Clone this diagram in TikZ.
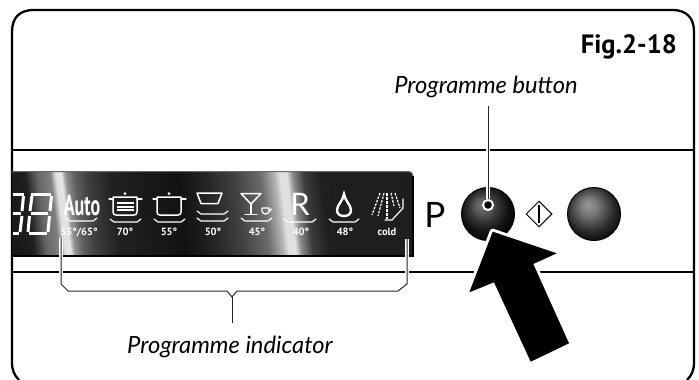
\documentclass[tikz,border=0pt]{standalone}
\usepackage{fontspec}
\usetikzlibrary{shapes.geometric}
\setmainfont{Lato}
\newfontfamily\pts{PT Sans}
\pgfdeclarehorizontalshading{panelgrad}{100bp}{
 color(0bp)=(black!90!white);
 color(25bp)=(black!92!white);
 color(27.1bp)=(black!88!white);
 color(28bp)=(black!60!white);
 color(28.9bp)=(black!50!white);
 color(29.3bp)=(black!12!white);
 color(29.7bp)=(black!10!white);
 color(30bp)=(black!42!white);
 color(30.6bp)=(black!62!white);
 color(31.6bp)=(black!76!white);
 color(33.2bp)=(black!87!white);
 color(38bp)=(black!93!white);
 color(40bp)=(black!86!white);
 color(42.1bp)=(black!74!white);
 color(43.9bp)=(black!58!white);
 color(44.9bp)=(black!30!white);
 color(45.3bp)=(black!12!white);
 color(45.8bp)=(black!12!white);
 color(46.2bp)=(black!45!white);
 color(47bp)=(black!76!white);
 color(48.2bp)=(black!88!white);
 color(75bp)=(black!90!white);
 color(100bp)=(black!90!white)}
\pgfdeclareradialshading{ballA}{\pgfpoint{-6bp}{9bp}}{
 color(0bp)=(black!55!white);
 color(7bp)=(black!64!white);
 color(14bp)=(black!80!white);
 color(22bp)=(black!93!white);
 color(28bp)=(black!98!white);
 color(50bp)=(black)}
\pgfdeclareradialshading{ballB}{\pgfpoint{-6bp}{9bp}}{
 color(0bp)=(black!42!white);
 color(7bp)=(black!50!white);
 color(14bp)=(black!66!white);
 color(22bp)=(black!84!white);
 color(30bp)=(black!95!white);
 color(50bp)=(black)}
\tikzset{
 frameline/.style={line width=2.3pt,black},
 leaderhalo/.style={line width=3.2pt,white},
 leaderline/.style={line width=1pt,black!85!white},
 iconline/.style={white,line width=1.2pt,line join=round,line cap=round},
 deglabel/.style={white,font=\pts\bfseries\fontsize{10.5}{10.5}\selectfont,anchor=base,inner sep=0pt},
 caption/.style={font=\itshape\fontsize{23.7}{23.7}\selectfont,anchor=base,inner sep=0pt},
 segment/.style={white,line width=3pt},
}
\newcommand{\trayline}[3]{\draw[iconline] (#1,#3) -- ({#1+4},{#3+3}) -- ({#2-4},{#3+3}) -- (#2,#3);}
\begin{document}
\begin{tikzpicture}[x=1pt,y=-1pt]
\useasboundingbox (0,0) rectangle (699,380);
% shelf lines
\draw[frameline] (12,150) -- (694,150);
\draw[frameline] (12,272) -- (694,272);
% outer frame
\draw[frameline] (19,380) .. controls (14,375) and (12,370) .. (12,362) -- (12,32) .. controls (12,18) and (19,10) .. (34,10) -- (672,10) .. controls (687,10) and (694,18) .. (694,32) -- (694,362) .. controls (694,370) and (692,375) .. (687,380);
% display panel
\begin{scope}
 \clip (12,171) -- (408,171) .. controls (411,171) and (413,173) .. (413,176) -- (413,256) -- (12,256) -- cycle;
 \begin{scope}[transform canvas={cm={1,0,-0.12,1,(-25.6pt,0pt)}}]
  \shade[shading=panelgrad] (0,160) rectangle (700,270);
 \end{scope}
\end{scope}
\draw[line width=1pt,black!60!white] (12,171.5) -- (408,171.5) .. controls (411,171.5) and (413,173) .. (413,176);
\draw[line width=1.6pt,black] (12,256) -- (413,256) -- (413,176);
% seven-segment digits
\draw[segment] (13,194.5) -- (24,194.5);
\draw[segment] (23.5,196) -- (22,211);
\draw[segment] (22,216) -- (20,232);
\draw[segment] (13,233.5) -- (19,233.5);
\draw[segment] (13,213.5) -- (21,213.5);
\draw[segment] (31,194.5) -- (51,194.5);
\draw[segment] (32,196) -- (30,211);
\draw[segment] (51.5,196) -- (50,211);
\draw[segment] (29.5,216) -- (28,232);
\draw[segment] (49.5,216) -- (48,232);
\draw[segment] (31,213.5) -- (48,213.5);
\draw[segment] (29,233.5) -- (47,233.5);
% Auto
\node[white,anchor=base,inner sep=0pt] (autotxt) at (82,215) {\pts\bfseries\scalebox{0.62}[1]{\fontsize{29}{29}\selectfont Auto}};
\trayline{66}{97}{218}
\node[deglabel] (d1) at (79,235) {55°/65°};
% pot with lines
\draw[iconline,line width=1.5pt] (113,197) -- (113,212) .. controls (113,214) and (114,215) .. (116,215) -- (134,215) .. controls (136,215) and (137,214) .. (137,212) -- (137,197) -- cycle;
\draw[iconline] (109,199) -- (113,199) (137,199) -- (142,199);
\fill[white] (125,193.5) circle (1.5pt);
\draw[white,line width=2pt] (117,203) -- (134,203) (117,206.5) -- (134,206.5) (117,210) -- (134,210);
\trayline{110}{141}{219}
\node[deglabel] (d2) at (125,235) {70°};
% pot plain
\draw[iconline,line width=1.5pt] (157,197) -- (157,212) .. controls (157,214) and (158,215) .. (160,215) -- (178,215) .. controls (180,215) and (181,214) .. (181,212) -- (181,197) -- cycle;
\draw[iconline] (153,199) -- (157,199) (181,199) -- (186,199);
\fill[white] (169,193.5) circle (1.5pt);
\trayline{154}{185}{219}
\node[deglabel] (d3) at (169,235) {55°};
% bowl
\draw[iconline,line width=1.5pt] (197,193) -- (222,193) -- (218,203.5) -- (201,203.5) -- cycle;
\trayline{197}{228}{211}
\trayline{197}{228}{218}
\node[deglabel] (d4) at (213,235) {50°};
% glass and cup
\draw[iconline,line width=1.5pt] (241,193.5) -- (261,193.5) -- (251,204) -- cycle;
\draw[iconline,line width=1.5pt] (251,204) -- (251,214) (245,214.5) -- (257,214.5);
\draw[iconline,line width=1.3pt] (262,208) -- (269,208) -- (269,211) .. controls (269,213) and (267,214) .. (265.5,214) .. controls (264,214) and (262,213) .. (262,211) -- cycle;
\draw[iconline,line width=.9pt] (269,209) -- (272,209) -- (269,212);
\trayline{241}{272}{218}
\node[deglabel] (d5) at (257,235) {45°};
% R
\node[white,anchor=base,inner sep=0pt] (rtxt) at (300,215) {\fontsize{31}{31}\selectfont R};
\trayline{284}{316}{219}
\node[deglabel] (d6) at (301,235) {40°};
% drop
\draw[white,line width=2.4pt] (344,194) .. controls (345,201) and (351,205) .. (351,210) .. controls (351,214) and (348,216) .. (344,216) .. controls (340,216) and (337,214) .. (337,210) .. controls (337,205) and (343,201) .. (344,194) -- cycle;
\trayline{329}{359}{219}
\node[deglabel] (d7) at (345,235) {48°};
% spray
\draw[white,line width=1.2pt,dash pattern=on 2.5pt off 1.2pt] (380,193) -- (372,215);
\draw[white,line width=1.2pt,dash pattern=on 2.5pt off 1.2pt] (384,193) -- (378,216);
\draw[white,line width=1.8pt,dash pattern=on 3pt off 1pt] (387,193) -- (387,219);
\draw[white,line width=1.2pt,dash pattern=on 2.5pt off 1.2pt] (391,193) -- (394,206);
\draw[white,line width=1.2pt,dash pattern=on 2.5pt off 1.2pt] (395,193) -- (400,208);
\draw[iconline] (403,199) -- (403,208) -- (392,220) -- (385,220);
\node[deglabel] (d8) at (387,235) {cold};
% P and buttons
\node[anchor=base,inner sep=0pt,font=\fontsize{35}{35}\selectfont] (plabel) at (435,227) {P};
\node[circle,minimum size=53pt,inner sep=0pt,draw=black,line width=1pt,shading=ballA] (progbtn) at (488,214) {};
\node[circle,minimum size=53pt,inner sep=0pt,draw=black,line width=1pt,shading=ballB] (otherbtn) at (594,214) {};
\node[diamond,minimum size=26pt,inner sep=0pt,draw=black,line width=1pt,fill=white] (startsym) at (539,214) {};
\draw[line width=1.2pt,black] (539,205) -- (539,223);
% programme button leader
\node[caption] (progcap) at (486,93) {Programme button};
\coordinate (progtop) at (488,106);
\node[circle,minimum size=10pt,inner sep=0pt,fill=black,draw=white,line width=2pt] (progdot) at (488,205) {};
\draw[leaderhalo] (488,140) -- (progdot);
\draw[leaderline] (progtop) -- (progdot);
% programme indicator bracket
\node[caption] (indcap) at (230,353) {Programme indicator};
\coordinate (bl) at (61,238);
\coordinate (br) at (407,239);
\coordinate (bstem) at (232,297);
\coordinate (bend) at (232,323);
\draw[leaderhalo] (bl) -- (61,282);
\draw[leaderhalo] (br) -- (407,282);
\draw[leaderline] (bl) -- (61,284) -- (68,291) -- (227,291) -- (bstem) -- (237,291) -- (398,291) -- (407,284) -- (br);
\draw[leaderline] (bstem) -- (bend);
% arrow
\draw[white,fill=black,line width=6pt,line join=round] (492.7,231.7) -- (556.7,253.3) -- (533.3,264) -- (569,343.3) -- (530.7,361.7) -- (494,282.3) -- (469.3,292.3) -- cycle;
\fill[black] (492.7,231.7) -- (556.7,253.3) -- (533.3,264) -- (569,343.3) -- (530.7,361.7) -- (494,282.3) -- (469.3,292.3) -- cycle;
% figure label
\node[anchor=base east,inner sep=0pt,font=\pts\bfseries\fontsize{26.5}{26.5}\selectfont] (figlabel) at (677,53) {Fig.2-18};
\end{tikzpicture}
\end{document}
